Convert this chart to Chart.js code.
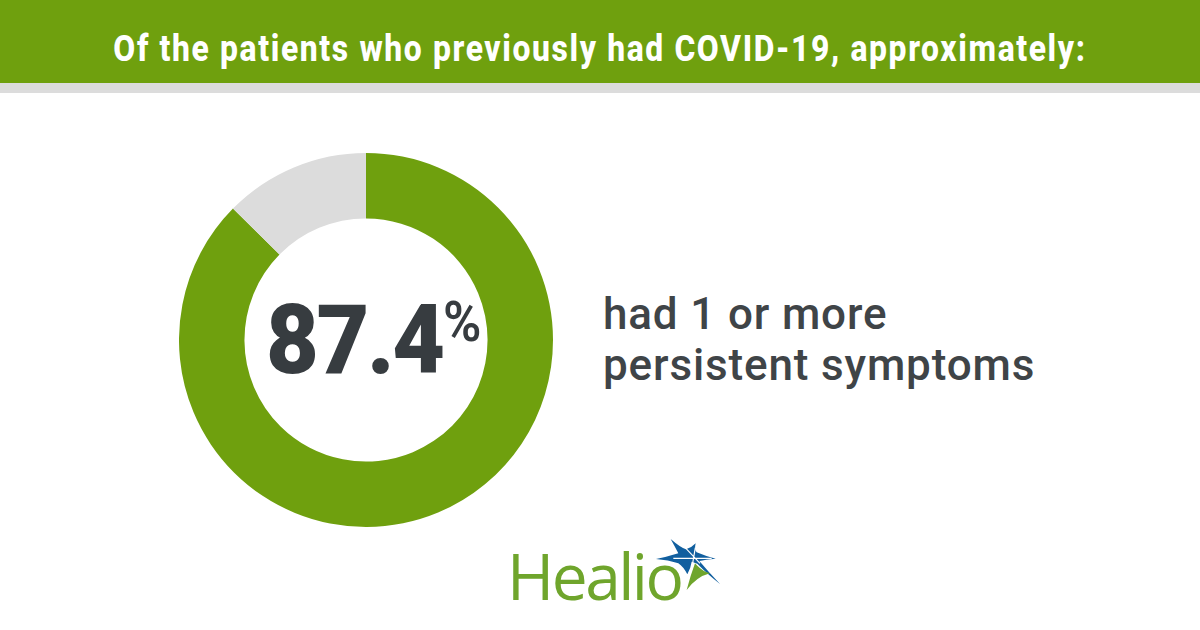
<!DOCTYPE html>
<html>
<head>
<meta charset="utf-8">
<script src="https://cdn.jsdelivr.net/npm/chart.js@4/dist/chart.umd.min.js"></script>
<style>
html, body { margin: 0; padding: 0; background: #fff; }
#page { position: relative; width: 1200px; height: 630px; overflow: hidden; font-family: Roboto, sans-serif; }
#banner { position: absolute; left: 0; top: 0; width: 1200px; height: 83px; background: #6fa00e; }
#rule { position: absolute; left: 0; top: 83px; width: 1200px; height: 10px; background: #dcdcdc; }
#title { position: absolute; left: 0; top: 0; width: 1200px; height: 100px; line-height: 100px; margin-top: -1px; text-align: center; color: #fff; font-weight: 800; font-size: 37px; letter-spacing: 1.9px; white-space: nowrap; transform: scaleX(0.86); }
#big { position: absolute; left: 266px; top: 283px; font-weight: 900; font-size: 97px; line-height: 114px; letter-spacing: -2.5px; color: #373c40; white-space: nowrap; transform: scaleX(0.94); transform-origin: left center; }
#pct { position: absolute; left: 443px; top: 289px; font-weight: 600; font-size: 56px; line-height: 66px; color: #373c40; transform: scaleX(0.93); transform-origin: left center; }
#wrap { position: absolute; left: 179px; top: 153px; width: 374px; height: 374px; }
#side { position: absolute; left: 603px; top: 289px; font-size: 44px; line-height: 51px; font-weight: 500; color: #3f4447; letter-spacing: 0.85px; white-space: nowrap; }
#logo { position: absolute; left: 507px; top: 540px; font-family: "Open Sans", sans-serif; font-weight: 500; font-size: 64px; line-height: 72px; letter-spacing: -2.5px; color: #6fa52c; }
#star { position: absolute; left: 650px; top: 535px; }
</style>
</head>
<body>
<div id="page">
  <div id="banner"></div>
  <div id="rule"></div>
  <div id="title">Of the patients who previously had COVID-19, approximately:</div>
  <div id="wrap"><canvas id="ring"></canvas></div>
  <div id="big">87.4</div>
  <div id="pct">%</div>
  <div id="side">had 1 or more<br>persistent symptoms</div>
  <div id="logo">Healio</div>
  <svg id="star" width="75" height="60" viewBox="0 0 225 180">
    <path fill="#115f9f" d="M62 12 Q92 38 108 43 Q125 38 137 25 Q132 45 140 52 Q170 65 197 71 Q165 74 148 78 Q175 110 210 147 Q170 115 142 86 L125 80 Q122 100 112 118 Q100 95 85 85 Q55 75 18 72 Q50 66 85 55 Q72 30 62 12 Z"/>
    <path fill="#6fa52c" d="M110 165 Q122 120 135 85 L142 92 Q160 110 180 115 Q140 125 110 165 Z"/>
    <path stroke="#fff" stroke-width="3.5" fill="none" d="M100 32 L150 85 M136 38 L124 108 M70 70 L185 70"/>
  </svg>
</div>
<script>
const segmentLabels = ['had 1 or more persistent symptoms', 'no persistent symptoms'];
const segmentValues = [87.4, 12.6];

const ctx = document.getElementById('ring').getContext('2d');

new Chart(ctx, {
    type: 'doughnut',
    data: {
        labels: segmentLabels,
        datasets: [{
            data: segmentValues,
            backgroundColor: ['#6fa00e', '#dcdcdc'],
            borderWidth: 0
        }]
    },
    options: {
        responsive: true,
        maintainAspectRatio: false,
        animation: false,
        cutout: '65%',
        plugins: {
            legend: { display: false },
            tooltip: { enabled: false }
        }
    }
});
</script>
</body>
</html>
